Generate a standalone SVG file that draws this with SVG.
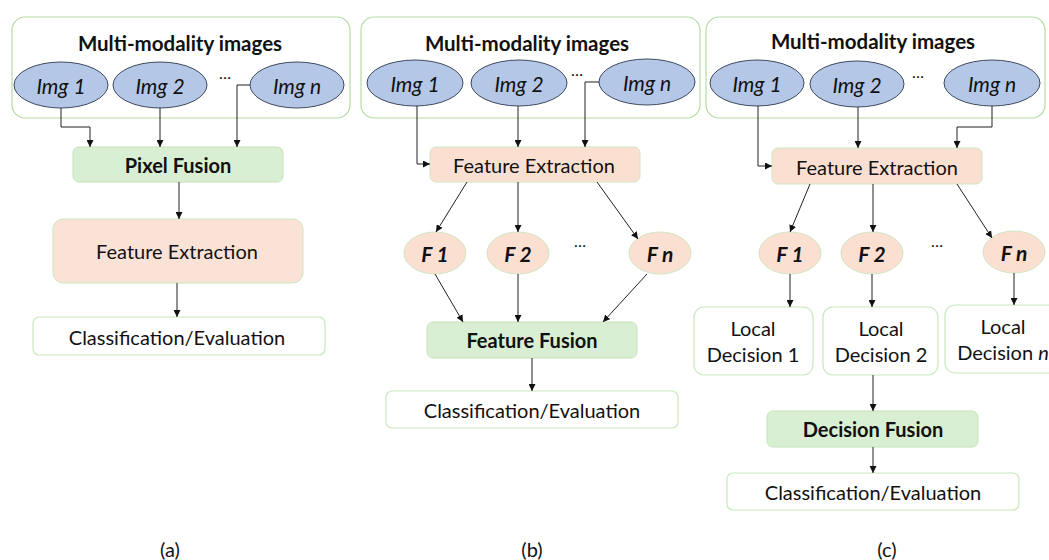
<svg xmlns="http://www.w3.org/2000/svg" width="1049" height="560" viewBox="0 0 1049 560">
<style>
text{font-family:Lato,"Liberation Sans",sans-serif;fill:#111;text-anchor:middle;dominant-baseline:central}
.outer{fill:#fff;stroke:#b5dca4;stroke-width:1.2}
.img{fill:#b4c7e7;stroke:#3d4a5e;stroke-width:1}
.green{fill:#d9efd3;stroke:#c3e3b8;stroke-width:1}
.peach{fill:#fbe2d6;stroke:#cbe6bf;stroke-width:1}
.white{fill:#fff;stroke:#c8e8bc;stroke-width:1.2}
.fe{fill:#fbe0d2;stroke:#cfe6c2;stroke-width:1}
.title{font-size:20.5px;font-weight:bold}
.it{font-size:21px;font-style:italic}
.fl{font-size:21px;font-weight:bold;font-style:italic}
.reg{font-size:20px}
.bold{font-size:20px;font-weight:bold}
.dots{font-size:16px}
.conn path{fill:none;stroke:#222;stroke-width:1;marker-end:url(#ah)}
</style>
<defs>
<marker id="ah" viewBox="0 0 10 10" refX="10" refY="5" markerWidth="7" markerHeight="7" markerUnits="userSpaceOnUse" orient="auto">
<path d="M0,0 L10,5 L0,10 z" fill="#111"/>
</marker>
</defs>

<!-- Panel (a) -->
<g id="a-multi"><rect class="outer" x="12" y="17" width="338" height="101" rx="13"/><text class="title" x="180" y="43">Multi-modality images</text></g>
<g id="a-img1"><ellipse class="img" cx="61" cy="85" rx="47" ry="23"/><text class="it" x="61" y="85">Img 1</text></g>
<g id="a-img2"><ellipse class="img" cx="160" cy="85" rx="47" ry="23"/><text class="it" x="160" y="85">Img 2</text></g>
<g id="a-dots"><text class="dots" x="225" y="72">…</text></g>
<g id="a-imgn"><ellipse class="img" cx="297" cy="85" rx="47" ry="23"/><text class="it" x="297" y="85">Img n</text></g>
<g id="a-pixel"><rect class="green" x="73" y="147" width="210" height="35" rx="6"/><text class="bold" x="178" y="165">Pixel Fusion</text></g>
<g id="a-fe"><rect class="peach" x="53" y="219" width="250" height="64" rx="10"/><text class="reg" x="177" y="251">Feature Extraction</text></g>
<g id="a-cls"><rect class="white" x="33" y="317" width="292" height="38" rx="6"/><text class="reg" x="177" y="337">Classification/Evaluation</text></g>

<!-- Panel (b) -->
<g id="b-multi"><rect class="outer" x="361" y="17" width="339" height="101" rx="13"/><text class="title" x="527" y="43">Multi-modality images</text></g>
<g id="b-img1"><ellipse class="img" cx="415" cy="83" rx="48" ry="23"/><text class="it" x="415" y="83">Img 1</text></g>
<g id="b-img2"><ellipse class="img" cx="519" cy="83" rx="48" ry="23"/><text class="it" x="519" y="83">Img 2</text></g>
<g id="b-dots"><text class="dots" x="577" y="69">…</text></g>
<g id="b-imgn"><ellipse class="img" cx="647" cy="82" rx="48" ry="23"/><text class="it" x="647" y="82">Img n</text></g>
<g id="b-fe"><rect class="fe" x="430" y="147" width="210" height="35" rx="6"/><text class="reg" x="534" y="165">Feature Extraction</text></g>
<g id="b-f1"><ellipse class="fe" cx="435" cy="253" rx="31" ry="21"/><text class="fl" x="435" y="253">F 1</text></g>
<g id="b-f2"><ellipse class="fe" cx="518" cy="253" rx="31" ry="21"/><text class="fl" x="518" y="253">F 2</text></g>
<g id="b-fdots"><text class="dots" x="580" y="240">…</text></g>
<g id="b-fn"><ellipse class="fe" cx="660" cy="253" rx="31" ry="21"/><text class="fl" x="660" y="253">F n</text></g>
<g id="b-ff"><rect class="green" x="427" y="322" width="210" height="36" rx="6"/><text class="bold" x="532" y="340">Feature Fusion</text></g>
<g id="b-cls"><rect class="white" x="386" y="391" width="292" height="37" rx="6"/><text class="reg" x="532" y="410">Classification/Evaluation</text></g>

<!-- Panel (c) -->
<g id="c-multi"><rect class="outer" x="706" y="17" width="339" height="101" rx="13"/><text class="title" x="873" y="41">Multi-modality images</text></g>
<g id="c-img1"><ellipse class="img" cx="757" cy="83" rx="47" ry="23"/><text class="it" x="757" y="83">Img 1</text></g>
<g id="c-img2"><ellipse class="img" cx="857" cy="84" rx="47" ry="23"/><text class="it" x="857" y="84">Img 2</text></g>
<g id="c-dots"><text class="dots" x="918" y="71">…</text></g>
<g id="c-imgn"><ellipse class="img" cx="992" cy="83" rx="48" ry="23"/><text class="it" x="992" y="83">Img n</text></g>
<g id="c-fe"><rect class="fe" x="772" y="148" width="210" height="36" rx="6"/><text class="reg" x="877" y="167">Feature Extraction</text></g>
<g id="c-f1"><ellipse class="fe" cx="790" cy="253" rx="31" ry="21"/><text class="fl" x="790" y="253">F 1</text></g>
<g id="c-f2"><ellipse class="fe" cx="872" cy="253" rx="31" ry="21"/><text class="fl" x="872" y="253">F 2</text></g>
<g id="c-fdots"><text class="dots" x="937" y="240">…</text></g>
<g id="c-fn"><ellipse class="fe" cx="1014" cy="252" rx="31" ry="21"/><text class="fl" x="1014" y="252">F n</text></g>
<g id="c-ld1"><rect class="white" x="694" y="307" width="119" height="68" rx="10"/><text class="reg" x="753" y="328">Local</text><text class="reg" x="753" y="354">Decision 1</text></g>
<g id="c-ld2"><rect class="white" x="823" y="307" width="115" height="68" rx="10"/><text class="reg" x="881" y="328">Local</text><text class="reg" x="881" y="354">Decision 2</text></g>
<g id="c-ldn"><rect class="white" x="945" y="305" width="120" height="68" rx="10"/><text class="reg" x="1003" y="326">Local</text><text class="reg" x="1003" y="352">Decision <tspan font-style="italic">n</tspan></text></g>
<g id="c-df"><rect class="green" x="767" y="411" width="211" height="36" rx="6"/><text class="bold" x="873" y="429">Decision Fusion</text></g>
<g id="c-cls"><rect class="white" x="727" y="473" width="292" height="37" rx="6"/><text class="reg" x="873" y="492">Classification/Evaluation</text></g>

<!-- Panel labels -->
<g id="labels">
<text class="reg" x="170" y="549">(a)</text>
<text class="reg" x="532" y="549">(b)</text>
<text class="reg" x="887" y="549">(c)</text>
</g>

<g id="connectors" class="conn">
<!-- a -->
<path d="M61,108 V127 H90 V147"/>
<path d="M160,108 V147"/>
<path d="M250,85 H237 V147"/>
<path d="M179,182 V219"/>
<path d="M177,283 V317"/>
<!-- b -->
<path d="M417,106 V164 H430"/>
<path d="M518,106 V147"/>
<path d="M599,82 H585 V147"/>
<path d="M467,182 L436,232"/>
<path d="M518,182 V232"/>
<path d="M597,182 L638,239"/>
<path d="M435,274 L463,322"/>
<path d="M518,274 V322"/>
<path d="M647,274 L603,322"/>
<path d="M532,358 V391"/>
<!-- c -->
<path d="M758,106 V166 H772"/>
<path d="M858,107 V148"/>
<path d="M992,106 V127 H957 V148"/>
<path d="M810,184 L790,232"/>
<path d="M873,184 V232"/>
<path d="M957,184 L992,238"/>
<path d="M790,274 V307"/>
<path d="M872,274 V307"/>
<path d="M1014,273 V305"/>
<path d="M873,375 V411"/>
<path d="M873,447 V473"/>
</g>
</svg>
